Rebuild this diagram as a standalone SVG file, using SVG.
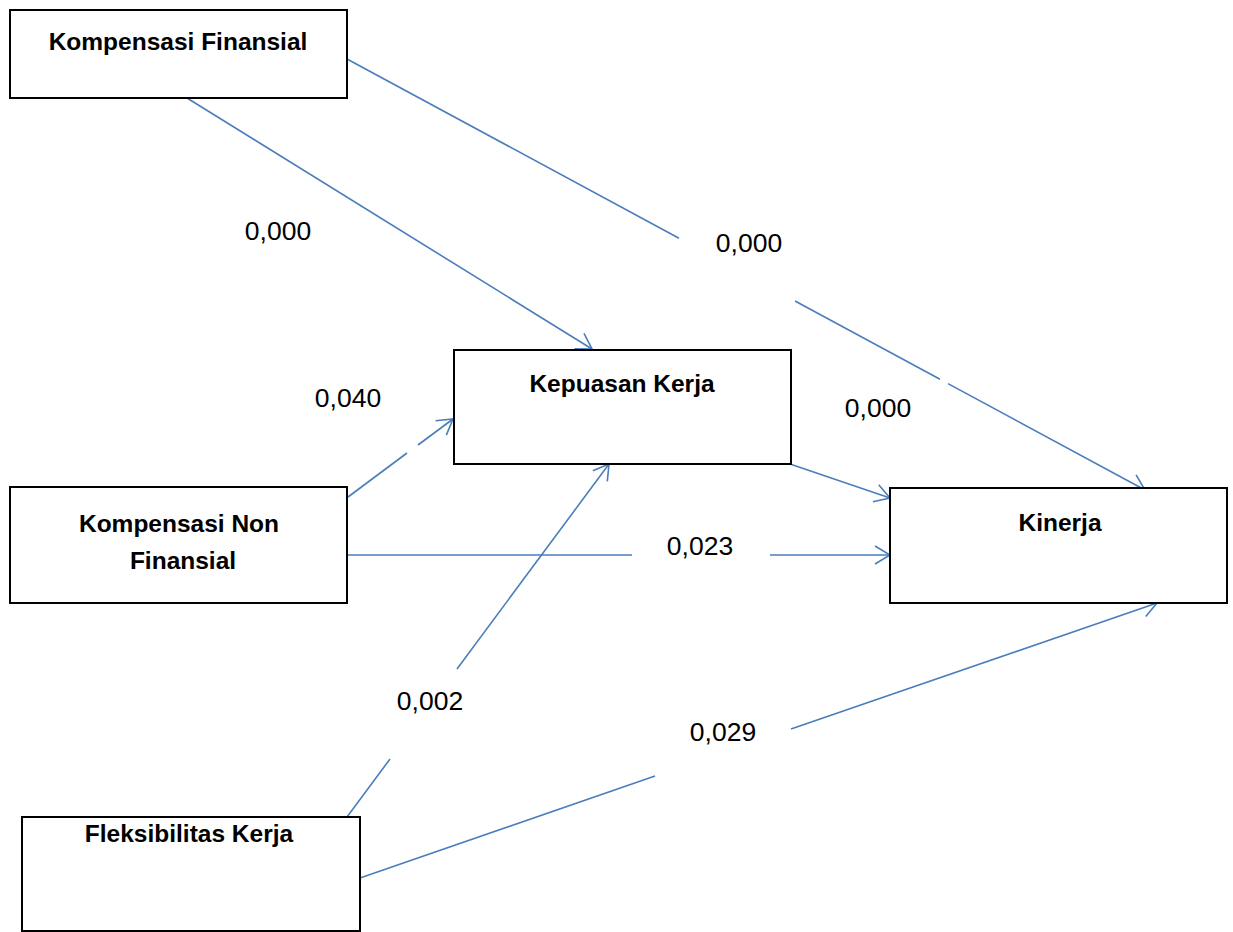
<svg xmlns="http://www.w3.org/2000/svg" width="1233" height="932" viewBox="0 0 1233 932">
<style>
.box{fill:#fff;stroke:#000;stroke-width:2}
.t{font-family:"Liberation Sans",Arial,sans-serif;font-weight:bold;font-size:24.5px;fill:#000;text-anchor:middle}
.lbl{font-family:"Liberation Sans",Arial,sans-serif;font-size:26.5px;fill:#000;text-anchor:middle}
.c{fill:none;stroke:#4A7EBB;stroke-width:1.6}
</style>
<defs>
<marker id="ah" markerWidth="20" markerHeight="20" refX="16" refY="10" orient="auto" markerUnits="userSpaceOnUse">
<path d="M1,1 L16,10 L1,19" fill="none" stroke="#4A7EBB" stroke-width="1.6"/>
</marker>
</defs>
<g id="connectors">
<path class="c" d="M187,98 L592,349" marker-end="url(#ah)"/>
<path class="c" d="M347,59 L679,238.3 M795,301 L940,379.3 M948,383.6 L1145,490" marker-end="url(#ah)"/>
<path class="c" d="M348,497 L407,453 M418,445 L453,419" marker-end="url(#ah)"/>
<path class="c" d="M347,555 L632,555 M770,555 L890,555" marker-end="url(#ah)"/>
<path class="c" d="M790,464 L890,498" marker-end="url(#ah)"/>
<path class="c" d="M347,817 L390,759 M457,669 L609,464" marker-end="url(#ah)"/>
<path class="c" d="M360,878 L655,776 M791,729 L1157,603" marker-end="url(#ah)"/>
</g>
<g id="labels">
<text class="lbl" x="278" y="240">0,000</text>
<text class="lbl" x="749" y="252">0,000</text>
<text class="lbl" x="348" y="407">0,040</text>
<text class="lbl" x="878" y="417">0,000</text>
<text class="lbl" x="700" y="555">0,023</text>
<text class="lbl" x="430" y="710">0,002</text>
<text class="lbl" x="723" y="741">0,029</text>
</g>
<g id="kompensasi-finansial">
<rect class="box" x="10" y="10" width="337" height="88"/>
<text class="t" x="178" y="50">Kompensasi Finansial</text>
</g>
<g id="kepuasan-kerja">
<rect class="box" x="454" y="350" width="337" height="114"/>
<text class="t" x="622" y="392">Kepuasan Kerja</text>
</g>
<g id="kinerja">
<rect class="box" x="890" y="488" width="337" height="115"/>
<text class="t" x="1060" y="531">Kinerja</text>
</g>
<g id="kompensasi-non-finansial">
<rect class="box" x="10" y="487" width="337" height="116"/>
<text class="t" x="179" y="532">Kompensasi Non</text>
<text class="t" x="183" y="569">Finansial</text>
</g>
<g id="fleksibilitas-kerja">
<rect class="box" x="22" y="817" width="338" height="114"/>
<text class="t" x="189" y="842">Fleksibilitas Kerja</text>
</g>
</svg>
